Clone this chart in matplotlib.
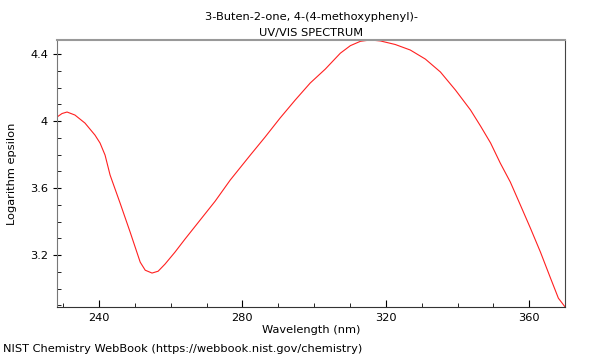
import matplotlib
matplotlib.use("Agg")
import matplotlib.pyplot as plt
from matplotlib.ticker import MultipleLocator

# values
wavelength = [228.3, 229.7, 231.1, 233.3, 236.1, 238.9, 240.3, 241.7, 243.1, 245.9, 248.7,
              251.5, 252.9, 254.8, 256.5, 258.4, 261.2, 264.0, 268.2, 272.4, 276.6,
              282.2, 286.3, 290.5, 294.7, 298.9, 303.1, 307.3, 310.1, 312.9, 315.7,
              318.5, 322.6, 326.8, 331.0, 335.2, 339.4, 343.6, 346.4, 349.2, 351.9,
              354.7, 357.5, 360.3, 363.1, 365.9, 368.1, 370.0]
log_eps = [4.024, 4.045, 4.054, 4.036, 3.988, 3.916, 3.869, 3.797, 3.678, 3.51, 3.337,
           3.158, 3.11, 3.093, 3.104, 3.146, 3.218, 3.296, 3.409, 3.522, 3.648,
           3.797, 3.904, 4.018, 4.125, 4.227, 4.31, 4.405, 4.45, 4.476, 4.484,
           4.478, 4.457, 4.424, 4.37, 4.293, 4.185, 4.066, 3.97, 3.869, 3.749,
           3.636, 3.499, 3.361, 3.218, 3.063, 2.943, 2.89]

fig = plt.figure(figsize=(6, 3.6), dpi=100)
ax = fig.add_axes([0.095, 0.147, 0.847, 0.742])
ax.plot(wavelength, log_eps, color="#ff2020", lw=0.8)

ax.set_xlim(228.3, 370.0)
ax.set_ylim(2.89, 4.484)
ax.xaxis.set_major_locator(MultipleLocator(40))
ax.xaxis.set_minor_locator(MultipleLocator(10))
ax.yaxis.set_major_locator(MultipleLocator(0.4))
ax.yaxis.set_minor_locator(MultipleLocator(0.1))
ax.set_yticks([3.2, 3.6, 4.0, 4.4], ["3.2", "3.6", "4", "4.4"])
ax.tick_params(axis="x", which="major", direction="in", length=5, labelsize=8.2, pad=4)
ax.tick_params(axis="x", which="minor", direction="in", length=3)
ax.tick_params(axis="y", which="major", direction="inout", length=6, labelsize=8.2)
ax.tick_params(axis="y", which="minor", direction="in", length=3)

ax.spines["top"].set_color("#999999")
ax.spines["top"].set_linewidth(1.5)
ax.spines["left"].set_color("#777777")
ax.spines["right"].set_color("#444444")
ax.spines["bottom"].set_color("#333333")

ax.set_xlabel("Wavelength (nm)", fontsize=8.2, labelpad=2)
ax.set_ylabel("Logarithm epsilon", fontsize=8.2, labelpad=9)
ax.set_title("3-Buten-2-one, 4-(4-methoxyphenyl)-\nUV/VIS SPECTRUM", fontsize=8.2, pad=3,
             linespacing=1.75)
fig.text(0.005, 0.022, "NIST Chemistry WebBook (https://webbook.nist.gov/chemistry)", fontsize=8.2)

fig.savefig("out.png", dpi=100)
